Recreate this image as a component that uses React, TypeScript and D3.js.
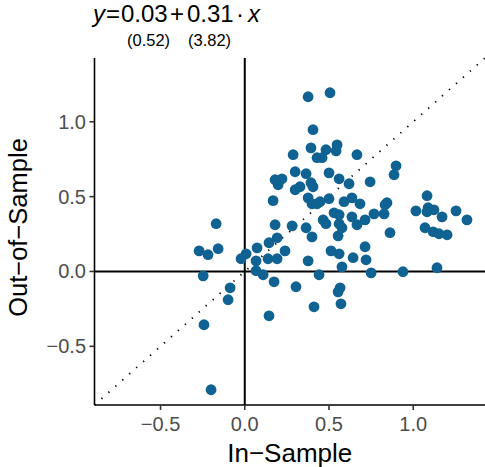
import React from "react";
import * as d3 from "d3";

const inSample: number[] = [
  0.376, 0.506, 0.405, 0.548, 0.393, 0.482, 0.542, 0.287, 0.666, 0.429,
  0.459, 0.898, 0.886, 0.299, 0.364, 0.500, 0.560, 0.619, 0.180, 0.221,
  0.198, 0.299, 0.328, 0.393, 0.405, 0.744, 0.168, 0.376, 0.399, 0.429,
  0.447, 0.500, 0.589, 0.636, 0.684, 0.844, 0.833, 0.530, 0.560, 0.636,
  0.767, 0.827, 0.714, 0.465, 0.482, 0.560, 0.577, 0.666, 0.364, 0.399,
  0.554, 0.862, 1.016, 1.082, 1.088, 1.082, 1.123, 1.171, 1.254, 1.319,
  1.070, 1.118, 1.153, 1.201, 0.512, 0.560, 0.714, 0.720, 0.643, 0.376,
  0.577, 0.441, 0.750, 0.939, 1.141, 0.566, 0.554, 0.571, 0.411, 0.304,
  0.174, 0.109, 0.067, 0.144, 0.180, 0.281, 0.144, 0.192, 0.073, 0.239,
  0.008, -0.022, 0.067, 0.138, 0.192, -0.170, -0.271, -0.218, -0.158, -0.247,
  -0.087, -0.099, -0.242, -0.200,
];
const outSample: number[] = [
  1.167, 1.194, 0.947, 0.846, 0.826, 0.813, 0.806, 0.780, 0.780, 0.760,
  0.760, 0.706, 0.646, 0.666, 0.653, 0.659, 0.619, 0.586, 0.613, 0.619,
  0.579, 0.546, 0.566, 0.593, 0.566, 0.599, 0.473, 0.492, 0.452, 0.452,
  0.466, 0.486, 0.466, 0.492, 0.452, 0.459, 0.446, 0.392, 0.379, 0.365,
  0.385, 0.385, 0.345, 0.345, 0.319, 0.319, 0.292, 0.312, 0.292, 0.231,
  0.238, 0.259, 0.405, 0.506, 0.426, 0.399, 0.412, 0.365, 0.405, 0.345,
  0.292, 0.265, 0.252, 0.245, 0.138, 0.118, 0.165, 0.078, 0.092, 0.071,
  0.031, -0.022, -0.009, -0.002, 0.025, -0.109, -0.136, -0.216, -0.236, -0.102,
  -0.069, -0.022, 0.005, -0.296, 0.312, 0.305, 0.192, 0.225, 0.158, 0.138,
  0.118, 0.085, 0.071, 0.085, 0.085, 0.319, 0.138, 0.112, 0.152, -0.029,
  -0.109, -0.189, -0.356, -0.790,
];
const xTicks: number[] = [-0.5, 0, 0.5, 1.0];
const yTicks: number[] = [-0.5, 0, 0.5, 1.0];
const limits: [number, number] = [-0.892, 1.426];

const FONT = "'Liberation Sans', Arial, Helvetica, sans-serif";
const fmt = (v: number) => d3.format(".1f")(v).replace("-", "\u2212");

export default function App() {
  const left = 94.5, right = 485, top = 58, bottom = 405;
  const x = d3.scaleLinear().domain(limits).range([left, right]);
  const y = d3.scaleLinear().domain(limits).range([bottom, top]);
  const pts = inSample.map((v, i) => ({ x: v, y: outSample[i] }));
  const tick = 5;
  return (
    <svg
      width={485}
      height={467}
      style={{ position: "absolute", left: 0, top: 0, background: "#fff" }}
      fontFamily={FONT}
    >
      <rect x={0} y={0} width={485} height={467} fill="#fff" />
      <line
        x1={x(limits[0])}
        y1={y(limits[0])}
        x2={x(limits[1])}
        y2={y(limits[1])}
        stroke="#000"
        strokeWidth={1.8}
        strokeDasharray="1.3 8"
      />
      <line x1={x(0)} x2={x(0)} y1={top} y2={bottom} stroke="#000" strokeWidth={2} />
      <line x1={left} x2={right} y1={y(0)} y2={y(0)} stroke="#000" strokeWidth={2} />
      {pts.map((p, i) => (
        <circle key={i} cx={x(p.x)} cy={y(p.y)} r={5.4} fill="#0f6292" />
      ))}
      <line x1={left} x2={left} y1={top} y2={bottom} stroke="#000" strokeWidth={1.6} />
      <line x1={left} x2={right} y1={bottom} y2={bottom} stroke="#000" strokeWidth={1.6} />
      {xTicks.map((t) => (
        <g key={"x" + t}>
          <line x1={x(t)} x2={x(t)} y1={bottom} y2={bottom + tick} stroke="#333" strokeWidth={1.6} />
          <text x={x(t)} y={431} textAnchor="middle" fontSize={20} fill="#4d4d4d">
            {fmt(t)}
          </text>
        </g>
      ))}
      {yTicks.map((t) => (
        <g key={"y" + t}>
          <line x1={left - tick} x2={left} y1={y(t)} y2={y(t)} stroke="#333" strokeWidth={1.6} />
          <text x={86} y={y(t) + 7} textAnchor="end" fontSize={20} fill="#4d4d4d">
            {fmt(t)}
          </text>
        </g>
      ))}
      <text x={(left + right) / 2} y={462} textAnchor="middle" fontSize={26} fill="#000">
        In{"\u2212"}Sample
      </text>
      <text
        transform={`translate(27,${(top + bottom) / 2 - 4}) rotate(-90)`}
        textAnchor="middle"
        fontSize={25.5}
        fill="#000"
      >
        Out{"\u2212"}of{"\u2212"}Sample
      </text>
      <g fontSize={24} fill="#000">
        <text x={93} y={22} fontStyle="italic">y</text>
        <text x={106} y={22}>=</text>
        <text x={121} y={22}>0.03</text>
        <text x={170} y={22}>+</text>
        <text x={187} y={22}>0.31</text>
        <text x={236} y={22}>·</text>
        <text x={248} y={22} fontStyle="italic">x</text>
      </g>
      <g fontSize={16.5} fill="#000">
        <text x={127} y={46}>(0.52)</text>
        <text x={188} y={46}>(3.82)</text>
      </g>
    </svg>
  );
}
